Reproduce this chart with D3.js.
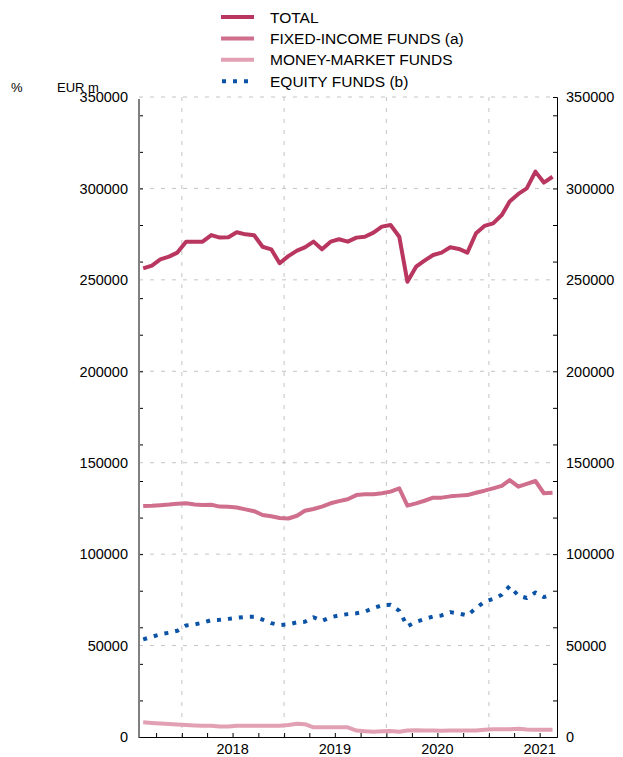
<html>
<head>
<meta charset="UTF-8">
<title>Funds</title>
<script src="https://cdn.jsdelivr.net/npm/d3@7"></script>
<style>
html,body{margin:0;padding:0;background:#fff;}
text{font-family:"Liberation Sans",Arial,sans-serif;fill:#000;}
.grid line{stroke:#c4c4c4;stroke-width:1;stroke-dasharray:4,7;}
.series{fill:none;stroke-linejoin:round;}
</style>
</head>
<body>
<div id="container"></div>
<script>
// monthly observations, Aug 2017 - Aug 2021
const months = [
  "2017-08","2017-09","2017-10","2017-11","2017-12",
  "2018-01","2018-02","2018-03","2018-04","2018-05","2018-06","2018-07","2018-08","2018-09","2018-10","2018-11","2018-12",
  "2019-01","2019-02","2019-03","2019-04","2019-05","2019-06","2019-07","2019-08","2019-09","2019-10","2019-11","2019-12",
  "2020-01","2020-02","2020-03","2020-04","2020-05","2020-06","2020-07","2020-08","2020-09","2020-10","2020-11","2020-12",
  "2021-01","2021-02","2021-03","2021-04","2021-05","2021-06","2021-07","2021-08"
]
const total = [
  256300,257800,261200,262700,264900,
  270900,270900,270900,274500,273100,273300,276000,274900,274400,268100,266700,259100,
  263000,266000,267800,270900,266700,270900,272200,270900,273100,273600,275800,279100,
  280000,273600,249000,257200,260500,263600,264900,267800,266900,264900,275500,279500,
  280900,285500,292800,297000,300000,309200,303200,306400
]
const fixedIncome = [
  126300,126500,126800,127100,127500,
  127800,127200,126900,127000,126000,125900,125500,124500,123500,121400,120700,119800,
  119500,121000,123700,124700,126000,127800,129000,130000,132300,132700,132700,133300,
  134200,136000,126500,127800,129200,130900,130900,131600,132000,132300,133600,134700,
  136000,137300,140500,136900,138400,140000,133300,133600
]
const moneyMarket = [
  8000,7700,7400,7100,6800,
  6500,6300,6200,6200,5800,5700,6200,6200,6200,6200,6200,6200,
  6600,7300,7000,5300,5300,5300,5300,5300,3500,3200,2900,3200,
  3300,2900,3600,3700,3600,3500,3400,3500,3500,3500,3500,4000,
  4200,4200,4300,4500,4100,4000,4000,4000
]
const equity = [
  53400,54800,56200,57000,58100,
  61000,61600,62500,63900,64100,64600,65200,65700,65800,64200,62300,61200,
  61600,62700,63000,65500,63500,65500,66500,67200,67650,68500,70500,72000,
  72300,69000,60500,63000,64500,65900,66500,68300,67500,66500,70500,74000,
  75500,77800,82500,77300,76000,79000,76500,78000
]
const seriesNames = ["TOTAL","FIXED-INCOME FUNDS (a)","MONEY-MARKET FUNDS","EQUITY FUNDS (b)"]
const yLabels = [0,50000,100000,150000,200000,250000,300000,350000]
const yearLabels = ["2018","2019","2020","2021"]

const W = 623, H = 757
const plot = {left:139, right:557, top:97, bottom:737}

const parse = d3.timeParse("%Y-%m")
const dates = months.map(m => { const d = parse(m); return new Date(d.getFullYear(), d.getMonth(), 16) })

const x = d3.scaleTime()
  .domain([new Date(2017,7,1), new Date(2021,8,1)])
  .range([plot.left, plot.right])
const y = d3.scaleLinear()
  .domain([0,350000])
  .range([plot.bottom, plot.top])

const colors = ["#b8365f","#cf6e8d","#e2a0b4","#0b53a6"]

const svg = d3.select("#container").append("svg")
  .attr("width", W).attr("height", H)

// gridlines
const grid = svg.append("g").attr("class","grid")
grid.selectAll(".h").data(yLabels.filter(v => v > 0)).enter().append("line")
  .attr("x1", plot.left).attr("x2", plot.right)
  .attr("y1", d => y(d)).attr("y2", d => y(d))
grid.selectAll(".v").data(yearLabels).enter().append("line")
  .attr("x1", d => x(new Date(+d,0,1))).attr("x2", d => x(new Date(+d,0,1)))
  .attr("y1", plot.top).attr("y2", plot.bottom)

// minor ticks every 20000 on both sides
const minor = d3.range(0, 350001, 20000)
const leftAxis = svg.append("g")
  .attr("transform", "translate(" + plot.left + ",0)")
  .call(d3.axisRight(y).tickValues(minor).tickSize(4).tickSizeOuter(0).tickFormat(""))
leftAxis.select(".domain").remove()
leftAxis.selectAll(".tick line").attr("stroke","#000")
svg.append("line")
  .attr("x1", plot.left).attr("x2", plot.left)
  .attr("y1", plot.top + 2).attr("y2", plot.bottom + 1)
  .attr("stroke","#808080").attr("stroke-width",2)

const rightAxis = svg.append("g")
  .attr("transform", "translate(" + plot.right + ",0)")
  .call(d3.axisLeft(y).tickValues(minor).tickSize(4).tickSizeOuter(4).tickFormat(""))
rightAxis.selectAll("line,path").attr("stroke","#000")

svg.selectAll(".ylab-l").data(yLabels).enter().append("text")
  .attr("x", plot.left - 11).attr("y", d => y(d)).attr("dy","0.36em")
  .attr("text-anchor","end").attr("font-size",14.5)
  .text(d => d)
svg.selectAll(".ylab-r").data(yLabels).enter().append("text")
  .attr("x", plot.right + 9).attr("y", d => y(d)).attr("dy","0.36em")
  .attr("font-size",14.5)
  .text(d => d)

// bottom axis, quarterly ticks
const bottomAxis = svg.append("g")
  .attr("transform", "translate(0," + plot.bottom + ")")
  .call(d3.axisTop(x).ticks(d3.timeMonth.filter(d => d.getMonth() % 3 === 0)).tickSize(4).tickSizeOuter(0).tickFormat(""))
bottomAxis.selectAll("line,path").attr("stroke","#000")

svg.selectAll(".year").data(yearLabels).enter().append("text")
  .attr("x", d => x(new Date(+d,6,1))).attr("y", plot.bottom + 17)
  .attr("text-anchor","middle").attr("font-size",14.5)
  .text(d => d)

svg.append("text").attr("x",11).attr("y",92).attr("font-size",13).text("%")
svg.append("text").attr("x",57).attr("y",92).attr("font-size",13).text("EUR m")

// series
const line = d3.line().x((d,i) => x(dates[i])).y(d => y(d))
const seriesData = [total, fixedIncome, moneyMarket, equity]
const order = [2,1,3,0]
order.forEach(k => {
  const p = svg.append("path").datum(seriesData[k])
    .attr("class","series")
    .attr("d", line)
    .attr("stroke", colors[k])
    .attr("stroke-width", 4)
  if (k === 3) p.attr("stroke-dasharray","4,7").attr("stroke-linejoin","miter")
})

// legend
const legend = svg.append("g").attr("transform","translate(221,17)")
seriesNames.forEach((name, i) => {
  const g = legend.append("g").attr("transform","translate(0," + (i * 21.4) + ")")
  const l = g.append("line").attr("x1",0).attr("x2",33).attr("y1",0).attr("y2",0)
    .attr("stroke", colors[i]).attr("stroke-width",4)
  if (i === 3) l.attr("stroke-dasharray","4,7").attr("x1",1)
  g.append("text").attr("x",49).attr("y",0).attr("dy","0.36em")
    .attr("font-size",15.5).text(name)
})
</script>
</body>
</html>
